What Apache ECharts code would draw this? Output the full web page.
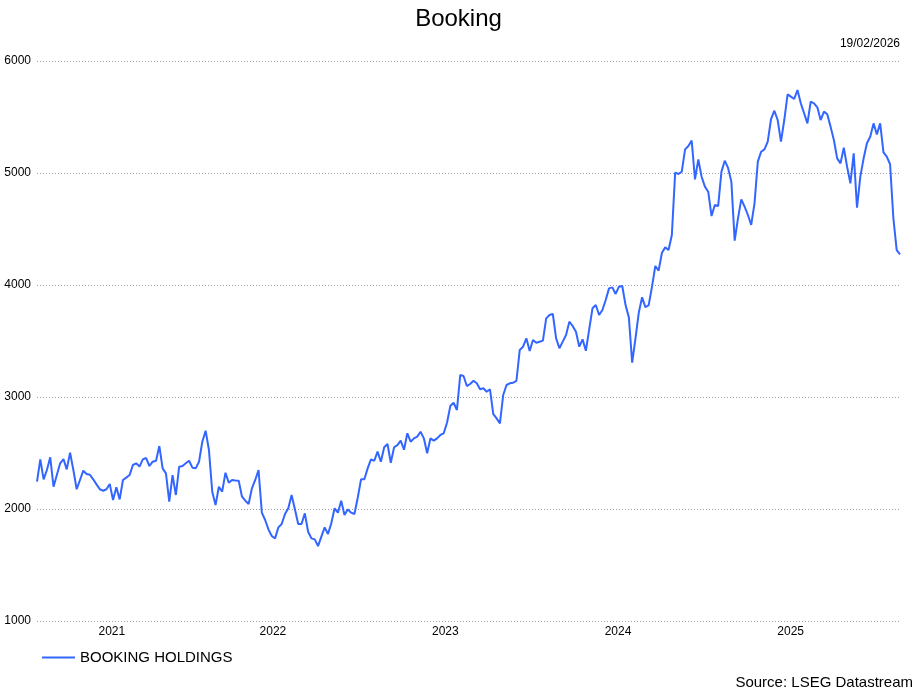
<!DOCTYPE html>
<html>
<head>
<meta charset="utf-8">
<script src="https://cdn.jsdelivr.net/npm/echarts@6/dist/echarts.min.js"></script>
<style>
html,body{margin:0;padding:0;background:#fff;}
#chart{width:917px;height:690px;}
</style>
</head>
<body>
<div id="chart"></div>
<script>
// ---- data ----
const chartTitle = 'Booking';
const asOfDate = '19/02/2026';
const sourceText = 'Source: LSEG Datastream';
const seriesName = 'BOOKING HOLDINGS';
const startDate = '2021-02-18';   // first weekly observation
const stepDays = 7;               // weekly data
const yearLabels = [2021, 2022, 2023, 2024, 2025];
const yTicks = [1000, 2000, 3000, 4000, 5000, 6000];
const bookingValues = [
  2244,2443,2265,2348,2461,2199,2303,2408,2446,2354,
  2503,2348,2176,2259,2342,2312,2306,2265,2220,2176,
  2163,2176,2223,2080,2194,2086,2259,2280,2303,2393,
  2408,2378,2443,2455,2384,2422,2431,2562,2363,2318,
  2065,2303,2125,2378,2384,2408,2431,2369,2363,2422,
  2601,2699,2527,2155,2035,2199,2155,2324,2235,2259,
  2255,2253,2110,2074,2044,2185,2259,2348,1967,1902,
  1818,1759,1738,1836,1866,1955,2006,2125,1997,1866,
  1866,1961,1797,1738,1729,1669,1753,1836,1777,1872,
  2006,1967,2074,1946,1997,1967,1955,2100,2265,2265,
  2363,2443,2431,2512,2422,2551,2580,2413,2551,2571,
  2610,2529,2676,2601,2631,2646,2690,2631,2497,2631,
  2610,2631,2661,2676,2770,2919,2949,2884,3196,3187,
  3098,3116,3145,3122,3069,3078,3047,3069,2848,2809,
  2765,3018,3107,3122,3128,3145,3420,3449,3524,3411,
  3509,3485,3494,3503,3702,3732,3741,3524,3435,3494,
  3553,3672,3634,3583,3449,3515,3413,3604,3792,3821,
  3732,3777,3866,3970,3979,3920,3985,3991,3821,3711,
  3306,3524,3753,3890,3801,3821,3985,4170,4128,4288,
  4336,4312,4446,5003,4991,5012,5211,5241,5289,4943,
  5122,4967,4878,4833,4616,4714,4705,5012,5110,5045,
  4923,4396,4595,4765,4699,4625,4536,4729,5101,5190,
  5211,5280,5482,5556,5473,5280,5473,5702,5682,5661,
  5741,5622,5533,5443,5637,5622,5586,5473,5548,5524,
  5414,5295,5131,5086,5226,5056,4908,5176,4690,4967,
  5131,5265,5324,5443,5345,5443,5185,5146,5078,4595,
  4312,4274
];

// ---- build ----
const DAY = 86400000;
const t0 = Date.parse(startDate + 'T00:00:00Z');
const seriesData = bookingValues.map((v, i) => [t0 + i * stepDays * DAY, v]);
const tMin = seriesData[0][0];
const tMax = seriesData[seriesData.length - 1][0];
// label each year at the centre of its visible span
const yearLabelValues = yearLabels.map(y => {
  const a = Math.max(tMin, Date.UTC(y, 0, 1));
  const b = Math.min(tMax, Date.UTC(y + 1, 0, 1));
  return (a + b) / 2;
});

const chart = echarts.init(document.getElementById('chart'), null, {renderer: 'canvas'});
const FONT = '"Liberation Sans", Arial, sans-serif';
chart.setOption({
  animation: false,
  backgroundColor: '#fff',
  textStyle: {fontFamily: FONT},
  title: [
    {text: chartTitle, left: 'center', top: 7, padding: 0,
     textStyle: {fontFamily: FONT, fontSize: 24, fontWeight: 'normal', color: '#000'}},
    {text: asOfDate, right: 17, top: 38, padding: 0,
     textStyle: {fontFamily: FONT, fontSize: 12, fontWeight: 'normal', color: '#000'}},
    {text: sourceText, right: 4, bottom: 0, padding: 0,
     textStyle: {fontFamily: FONT, fontSize: 15, fontWeight: 'normal', color: '#000'}}
  ],
  legend: {
    left: 42, top: 650, padding: 0,
    data: [{name: seriesName, icon: 'rect'}],
    itemWidth: 33, itemHeight: 2, itemGap: 8,
    textStyle: {fontFamily: FONT, fontSize: 15, color: '#000'}
  },
  grid: {left: 37, right: 17, top: 61, bottom: 69, containLabel: false},
  xAxis: {
    type: 'value', min: tMin, max: tMax, scale: true,
    axisLine: {show: false}, axisTick: {show: false},
    splitLine: {show: false},
    axisLabel: {
      customValues: yearLabelValues,
      formatter: v => String(new Date(v).getUTCFullYear()),
      fontFamily: FONT, fontSize: 12, color: '#000', margin: 5
    }
  },
  yAxis: {
    type: 'value', min: yTicks[0], max: yTicks[yTicks.length - 1], interval: 1000,
    axisLine: {show: false}, axisTick: {show: false},
    splitLine: {show: true, lineStyle: {color: '#a0a0a0', type: [1, 2], width: 1}},
    axisLabel: {fontFamily: FONT, fontSize: 12, color: '#000', margin: 6,
                formatter: v => String(v)}
  },
  series: [{
    name: seriesName, type: 'line', data: seriesData,
    showSymbol: false, symbol: 'none',
    lineStyle: {color: '#3366ff', width: 2},
    itemStyle: {color: '#3366ff'}
  }]
});
</script>
</body>
</html>
